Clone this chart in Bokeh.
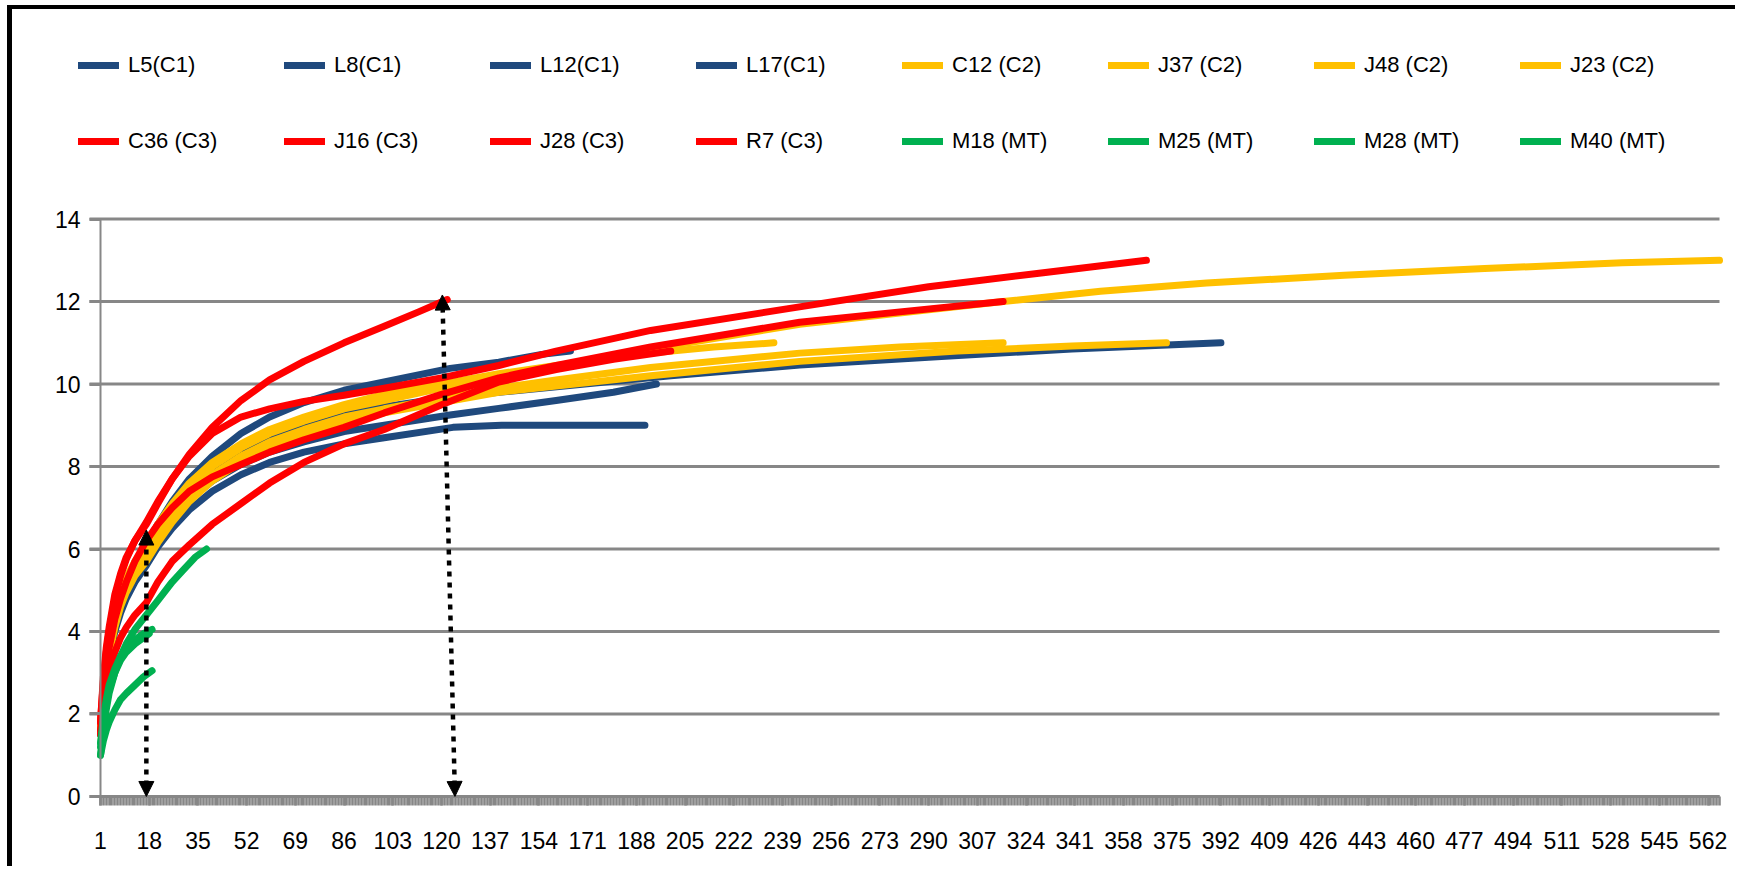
from bokeh.plotting import figure
from bokeh.models import Range1d, FixedTicker, Legend, LegendItem, Arrow, NormalHead
from bokeh.embed import file_html
from bokeh.resources import INLINE

FONT = "Liberation Sans"

# sample index axis labels (every 17th sample)
x_tick_labels = list(range(1, 563, 17))
n_samples = 566
y_ticks = [0, 2, 4, 6, 8, 10, 12, 14]

BLUE = "#1F497D"
YELLOW = "#FFC000"
RED = "#FF0000"
GREEN = "#00B050"
GRAY = "#878787"

# --- C1 ---
l5_x = [1, 2, 3, 4, 6, 8, 10, 13, 17, 21, 26, 32, 40, 50, 60, 72, 86, 100, 124, 141, 191]
l5_y = [1.5, 2.3, 2.9, 3.3, 4.0, 4.45, 4.8, 5.2, 5.6, 6.05, 6.5, 6.95, 7.4, 7.8, 8.1, 8.35, 8.55, 8.7, 8.95, 9.0, 9.0]
l8_x = [1, 2, 3, 4, 6, 8, 10, 13, 17, 21, 26, 32, 40, 50, 60, 72, 86, 100, 123, 140, 160, 180, 195]
l8_y = [1.6, 2.4, 3.0, 3.4, 4.1, 4.55, 4.9, 5.35, 5.8, 6.25, 6.7, 7.2, 7.65, 8.05, 8.35, 8.6, 8.85, 9.0, 9.25, 9.41, 9.6, 9.8, 10.0]
l12_x = [1, 2, 3, 4, 6, 8, 10, 13, 17, 21, 26, 32, 40, 50, 60, 72, 86, 100, 123, 140, 170, 200, 245, 290, 340, 392]
l12_y = [1.6, 2.4, 3.0, 3.5, 4.2, 4.65, 5.0, 5.45, 5.9, 6.4, 6.9, 7.4, 7.9, 8.35, 8.7, 9.0, 9.25, 9.45, 9.68, 9.8, 10.0, 10.2, 10.46, 10.65, 10.85, 11.0]
l17_x = [1, 2, 3, 4, 6, 8, 10, 13, 17, 21, 26, 32, 40, 50, 60, 72, 86, 100, 123, 140, 155, 165]
l17_y = [1.7, 2.5, 3.1, 3.6, 4.3, 4.8, 5.2, 5.65, 6.1, 6.6, 7.15, 7.7, 8.25, 8.8, 9.2, 9.55, 9.85, 10.05, 10.38, 10.53, 10.72, 10.8]

# --- C2 ---
c12_x = [1, 2, 3, 4, 6, 8, 10, 13, 17, 21, 26, 32, 40, 50, 60, 72, 86, 100, 120, 140, 160, 193, 245, 290, 316, 350, 387, 435, 484, 532, 566]
c12_y = [1.7, 2.5, 3.1, 3.6, 4.3, 4.8, 5.15, 5.55, 6.0, 6.5, 7.0, 7.5, 8.0, 8.45, 8.8, 9.1, 9.4, 9.6, 9.9, 10.15, 10.4, 10.85, 11.45, 11.8, 12.0, 12.25, 12.45, 12.64, 12.8, 12.94, 13.0]
j37_x = [1, 2, 3, 4, 6, 8, 10, 13, 17, 21, 26, 32, 40, 50, 60, 72, 86, 100, 120, 140, 160, 193, 215, 236]
j37_y = [1.7, 2.6, 3.2, 3.7, 4.4, 4.9, 5.3, 5.7, 6.1, 6.6, 7.1, 7.6, 8.1, 8.55, 8.9, 9.2, 9.5, 9.75, 10.0, 10.25, 10.45, 10.75, 10.9, 11.0]
j48_x = [1, 2, 3, 4, 6, 8, 10, 13, 17, 21, 26, 32, 40, 50, 60, 72, 86, 100, 120, 140, 160, 193, 245, 280, 316]
j48_y = [1.6, 2.4, 3.0, 3.5, 4.2, 4.7, 5.05, 5.45, 5.85, 6.3, 6.8, 7.3, 7.8, 8.25, 8.6, 8.9, 9.2, 9.4, 9.65, 9.9, 10.1, 10.4, 10.75, 10.9, 11.0]
j23_x = [1, 2, 3, 4, 6, 8, 10, 13, 17, 21, 26, 32, 40, 50, 60, 72, 86, 100, 120, 140, 160, 193, 245, 300, 340, 373]
j23_y = [1.6, 2.4, 2.9, 3.4, 4.1, 4.6, 4.95, 5.35, 5.7, 6.15, 6.65, 7.15, 7.65, 8.1, 8.45, 8.75, 9.05, 9.3, 9.55, 9.8, 9.95, 10.2, 10.55, 10.8, 10.92, 11.0]

# --- C3 ---
c36_x = [1, 2, 3, 4, 6, 8, 10, 13, 17, 21, 26, 32, 40, 50, 60, 72, 86, 100, 120, 140, 160, 193, 241, 290, 330, 366]
c36_y = [1.8, 2.8, 3.5, 4.0, 4.8, 5.35, 5.75, 6.2, 6.65, 7.15, 7.7, 8.25, 8.8, 9.2, 9.4, 9.58, 9.73, 9.9, 10.15, 10.45, 10.8, 11.3, 11.83, 12.36, 12.7, 13.0]
j16_x = [1, 2, 3, 4, 6, 8, 10, 13, 17, 21, 26, 32, 40, 50, 60, 72, 86, 100, 120, 140, 160, 193, 245, 280, 316]
j16_y = [1.6, 2.5, 3.1, 3.6, 4.3, 4.8, 5.2, 5.7, 6.2, 6.6, 7.0, 7.4, 7.75, 8.05, 8.35, 8.65, 8.95, 9.3, 9.75, 10.15, 10.45, 10.9, 11.5, 11.75, 12.0]
j28_x = [1, 2, 3, 4, 6, 8, 10, 13, 17, 21, 26, 32, 40, 50, 60, 72, 86, 100, 120, 140, 160, 180, 200]
j28_y = [1.5, 2.2, 2.7, 3.0, 3.5, 3.85, 4.1, 4.4, 4.7, 5.2, 5.7, 6.1, 6.6, 7.1, 7.6, 8.1, 8.55, 8.9, 9.5, 10.05, 10.35, 10.6, 10.8]
r7_x = [1, 2, 3, 4, 6, 8, 10, 13, 17, 21, 26, 32, 40, 50, 60, 72, 86, 100, 112, 122]
r7_y = [1.8, 2.9, 3.6, 4.1, 4.9, 5.4, 5.8, 6.2, 6.6, 7.1, 7.7, 8.3, 8.95, 9.6, 10.1, 10.55, 11.0, 11.4, 11.75, 12.05]

# --- MT ---
m18_x = [1, 2, 3, 4, 6, 8, 10, 13, 17, 21, 26, 30, 34, 38]
m18_y = [1.0, 1.6, 2.1, 2.5, 3.0, 3.4, 3.7, 4.05, 4.4, 4.75, 5.2, 5.5, 5.8, 6.0]
m25_x = [1, 2, 3, 4, 6, 8, 10, 13, 16, 19]
m25_y = [1.3, 1.9, 2.35, 2.7, 3.1, 3.4, 3.6, 3.8, 3.95, 4.05]
m28_x = [1, 2, 3, 4, 6, 8, 10, 13, 16, 19]
m28_y = [1.0, 1.35, 1.6, 1.8, 2.1, 2.35, 2.5, 2.7, 2.9, 3.05]
m40_x = [1, 2, 3, 4, 6, 8, 10, 13, 16, 18]
m40_y = [1.2, 1.8, 2.25, 2.6, 3.0, 3.3, 3.5, 3.7, 3.85, 3.95]

series = [
    ("L5(C1)", l5_x, l5_y, BLUE),
    ("L8(C1)", l8_x, l8_y, BLUE),
    ("L12(C1)", l12_x, l12_y, BLUE),
    ("L17(C1)", l17_x, l17_y, BLUE),
    ("C12 (C2)", c12_x, c12_y, YELLOW),
    ("J37 (C2)", j37_x, j37_y, YELLOW),
    ("J48 (C2)", j48_x, j48_y, YELLOW),
    ("J23 (C2)", j23_x, j23_y, YELLOW),
    ("C36 (C3)", c36_x, c36_y, RED),
    ("J16 (C3)", j16_x, j16_y, RED),
    ("J28 (C3)", j28_x, j28_y, RED),
    ("R7 (C3)", r7_x, r7_y, RED),
    ("M18 (MT)", m18_x, m18_y, GREEN),
    ("M25 (MT)", m25_x, m25_y, GREEN),
    ("M28 (MT)", m28_x, m28_y, GREEN),
    ("M40 (MT)", m40_x, m40_y, GREEN),
]

# dotted guides: (sample at axis, sample at curve, value at curve)
guide_1 = (17, 17, 6.46)
guide_2 = (124.7, 120.3, 12.16)

# The frame covers the whole canvas (legend and axis labels included), so both
# axes are pinned at sample 1 / value 0 and the rules start just left of the axis.
W, H = 1728, 861
PX = 2.8655          # pixels per sample
PY = 41.24           # pixels per unit of value
frame_left_px = 40
axis_x_px = 88       # canvas position of sample 1
x_start = 1 - (axis_x_px - frame_left_px) / PX
x_end = x_start + (W - frame_left_px) / PX
y_top = 14 + 209.6 / PY
y_bottom = y_top - H / PY
rule_start = 1 - 11 / PX

p = figure(
    width=W, height=H,
    x_range=Range1d(x_start, x_end), y_range=Range1d(y_bottom, y_top),
    output_backend="svg", toolbar_location=None,
    min_border_left=frame_left_px, min_border_right=0,
    min_border_top=0, min_border_bottom=0,
    background_fill_color="white", border_fill_color="white",
    styles={"border-top": "4px solid black", "border-left": "5px solid black",
            "margin-top": "5px", "margin-left": "7px"},
)
p.outline_line_color = None
p.xgrid.visible = False
p.ygrid.visible = False

# horizontal rules at the value ticks
p.segment(x0=[rule_start] * len(y_ticks), y0=y_ticks, x1=[n_samples] * len(y_ticks), y1=y_ticks,
          line_color=GRAY, line_width=3)

xa = p.xaxis[0]
xa.fixed_location = 0
xa.bounds = (1, n_samples)
xa.ticker = FixedTicker(ticks=x_tick_labels, minor_ticks=list(range(1, n_samples + 1)))
xa.axis_line_color = GRAY
xa.axis_line_width = 3
xa.major_tick_in = 0
xa.major_tick_out = 9
xa.major_tick_line_color = GRAY
xa.major_tick_line_width = 2.6
xa.minor_tick_in = 0
xa.minor_tick_out = 9
xa.minor_tick_line_color = GRAY
xa.minor_tick_line_width = 2.6
xa.major_label_text_font = FONT
xa.major_label_text_font_size = "23px"
xa.major_label_text_color = "black"
xa.major_label_standoff = 27

ya = p.yaxis[0]
ya.fixed_location = 1
ya.bounds = (0, 14)
ya.ticker = FixedTicker(ticks=y_ticks)
ya.axis_line_color = GRAY
ya.axis_line_width = 2
ya.major_tick_in = 0
ya.major_tick_out = 11
ya.major_tick_line_color = GRAY
ya.major_tick_line_width = 3
ya.minor_tick_line_color = None
ya.major_label_text_font = FONT
ya.major_label_text_font_size = "23px"
ya.major_label_text_color = "black"
ya.major_label_standoff = 9

items = []
for name, xs, ys, col in series:
    r = p.line(xs, ys, line_color=col, line_width=7, line_cap="round", line_join="round")
    items.append(LegendItem(label=name, renderers=[r]))

for g in (guide_1, guide_2):
    p.add_layout(Arrow(
        x_start=g[0], y_start=0, x_end=g[1], y_end=g[2],
        line_color="black", line_width=4.5, line_dash="5 6",
        start=NormalHead(size=15, fill_color="black", line_color="black"),
        end=NormalHead(size=15, fill_color="black", line_color="black"),
    ))

legend = Legend(
    items=items, orientation="horizontal", ncols=8,
    location=(66 - frame_left_px, H - 170),
    glyph_width=41, glyph_height=76, label_width=156, label_standoff=9,
    spacing=0, padding=0, margin=0, border_line_color=None,
    background_fill_alpha=0, label_text_font=FONT, label_text_font_size="22px",
    label_text_color="black",
)
p.add_layout(legend, "center")

open("out.html", "w").write(file_html(p, INLINE))
